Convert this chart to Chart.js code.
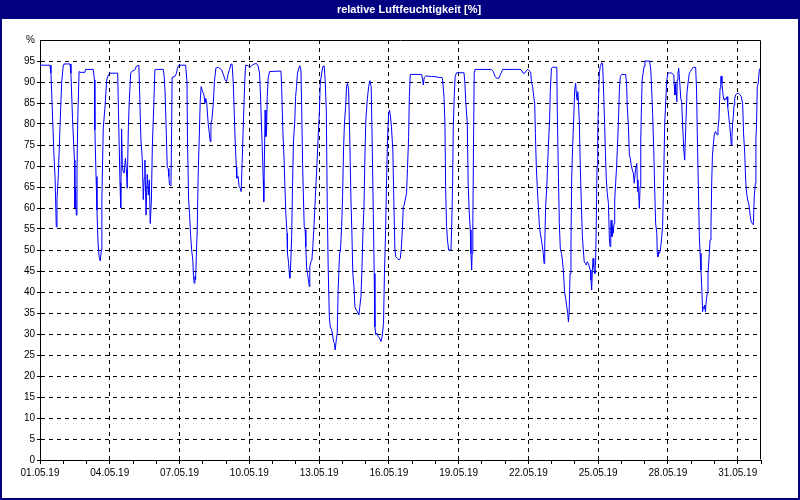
<!DOCTYPE html>
<html>
<head>
<meta charset="utf-8">
<script src="https://cdn.jsdelivr.net/npm/chart.js@4/dist/chart.umd.min.js"></script>
<style>
html,body{margin:0;padding:0;background:#ffffff;}
#wrap{width:800px;height:500px;position:relative;}
canvas{display:block;}
</style>
</head>
<body>
<div id="wrap"><canvas id="c" width="800" height="500"></canvas></div>
<script>
// ---- chart content ----
const chartTitle = 'relative Luftfeuchtigkeit [%]';
const xTickLabels = ['01.05.19','04.05.19','07.05.19','10.05.19','13.05.19','16.05.19','19.05.19','22.05.19','25.05.19','28.05.19','31.05.19'];
const yTickLabels = ['0','5','10','15','20','25','30','35','40','45','50','55','60','65','70','75','80','85','90','95','%'];

// time in days since 01.05.19 00:00
const timeDays = [
  0, 0.43, 0.47, 0.53, 0.60, 0.65, 0.70, 0.73, 0.79, 0.86,
  0.93, 1.00, 1.03, 1.29, 1.33, 1.40, 1.48, 1.50, 1.53, 1.56,
  1.59, 1.62, 1.68, 1.72, 1.93, 1.96, 2.29, 2.34, 2.36, 2.41,
  2.45, 2.49, 2.54, 2.59, 2.64, 2.66, 2.72, 2.79, 2.87, 2.94,
  3.01, 3.34, 3.40, 3.44, 3.47, 3.51, 3.54, 3.58, 3.62, 3.67,
  3.71, 3.75, 3.80, 3.84, 3.90, 3.94, 4.08, 4.15, 4.25, 4.34,
  4.40, 4.44, 4.48, 4.51, 4.56, 4.61, 4.66, 4.70, 4.74, 4.79,
  4.83, 4.89, 4.94, 5.01,
  5.30, 5.34, 5.38, 5.43, 5.47, 5.51, 5.54, 5.57, 5.63, 5.66,
  5.68, 5.80, 5.87, 5.91, 5.97, 6.26, 6.32, 6.34, 6.39, 6.43,
  6.47, 6.52, 6.57, 6.60, 6.63, 6.66, 6.69, 6.72, 6.76, 6.80,
  6.85, 6.89, 6.93, 6.99, 7.05, 7.09, 7.13, 7.17, 7.23, 7.28,
  7.32, 7.35, 7.39, 7.45, 7.50, 7.56, 7.66, 7.81, 7.89, 7.95,
  8.02, 8.08, 8.15, 8.21, 8.26, 8.31, 8.35, 8.39, 8.44, 8.46,
  8.52, 8.56, 8.61, 8.65, 8.69, 8.75, 8.81, 8.84, 8.95, 9.02,
  9.07, 9.12, 9.21, 9.31, 9.38, 9.44, 9.48, 9.52, 9.57, 9.60,
  9.62, 9.65, 9.68, 9.71, 9.74, 9.77, 9.81, 9.87, 10.36,
  10.39, 10.44, 10.49, 10.53, 10.57, 10.62, 10.64, 10.69, 10.72, 10.74,
  10.77, 10.82, 10.86, 10.90, 10.95, 10.99, 11.03, 11.07, 11.13, 11.17,
  11.22, 11.25, 11.29, 11.33, 11.36, 11.40, 11.43, 11.46, 11.50, 11.53,
  11.58, 11.60, 11.65, 11.69, 11.73, 11.78, 11.82, 11.86, 11.91, 11.96,
  12.01, 12.05, 12.11, 12.16, 12.22, 12.26, 12.31, 12.35, 12.39, 12.44,
  12.48, 12.54, 12.58, 12.62, 12.66, 12.69, 12.74, 12.78, 12.82, 12.88,
  12.92, 12.97, 13.01, 13.05, 13.09, 13.14, 13.18, 13.22, 13.27, 13.32,
  13.37, 13.41, 13.45, 13.50, 13.54, 13.60, 13.65, 13.71, 13.75, 13.80,
  13.84, 13.88, 13.93, 13.97, 14.01, 14.07, 14.13, 14.18, 14.24, 14.28,
  14.33, 14.37, 14.40, 14.44, 14.48, 14.54, 14.60, 14.66, 14.71, 14.77,
  14.81, 14.86, 14.90, 14.94, 14.99, 15.03, 15.07, 15.11, 15.17, 15.21,
  15.26, 15.30, 15.37,
  15.43, 15.49, 15.53, 15.58, 15.62, 15.66, 15.70, 15.76, 15.80, 15.85,
  15.88, 15.92, 16.41, 16.45, 16.48, 16.52, 16.58, 16.69, 16.84, 16.98,
  17.12, 17.28, 17.31, 17.37, 17.41, 17.44, 17.48, 17.52, 17.57, 17.67,
  17.70, 17.74, 17.77, 17.81, 17.85, 17.91, 18.23, 18.27, 18.31, 18.37,
  18.41, 18.45, 18.50, 18.53, 18.56, 18.58, 18.61, 18.64, 18.67, 18.70,
  19.41, 19.49, 19.56, 19.63, 19.73, 19.82, 19.89, 20.63,
  20.70, 20.77, 20.84, 20.91, 20.98, 21.05, 21.10, 21.13, 21.18, 21.23,
  21.27, 21.30, 21.34, 21.38, 21.43, 21.47, 21.51, 21.56, 21.60, 21.64,
  21.67, 21.70, 21.74, 21.79, 21.83, 21.87, 21.91, 21.94, 21.99, 22.03,
  22.22, 22.24, 22.29, 22.33, 22.37, 22.42, 22.46, 22.50, 22.56, 22.60,
  22.65, 22.69, 22.72, 22.75, 22.79, 22.83, 22.86, 22.90, 22.95, 22.99,
  23.03, 23.06, 23.09, 23.12, 23.15, 23.19, 23.23, 23.28, 23.32, 23.36,
  23.40, 23.45, 23.49, 23.53, 23.58, 23.62, 23.66, 23.69, 23.72, 23.75,
  23.78, 23.81, 23.83, 23.86, 23.89, 23.92, 23.95, 23.98, 24.01, 24.05,
  24.09, 24.15, 24.19, 24.24, 24.28, 24.31, 24.35, 24.39, 24.44, 24.48,
  24.51, 24.54, 24.56, 24.59, 24.62, 24.65, 24.68, 24.71, 24.75, 24.79,
  24.84, 24.88, 24.91, 24.95, 25.01, 25.18, 25.22, 25.25, 25.30, 25.34,
  25.38, 25.42, 25.47, 25.51, 25.55,
  25.61, 25.66, 25.68, 25.71, 25.74, 25.77, 25.80, 25.83, 25.86, 25.89,
  25.93, 25.97, 26.01, 26.21, 26.26, 26.30, 26.34, 26.39, 26.43, 26.47,
  26.52, 26.54, 26.57, 26.60, 26.64, 26.69, 26.72, 26.77, 26.82, 26.86,
  26.90, 26.95, 27.00, 27.07, 27.17, 27.25, 27.27, 27.30, 27.33, 27.38,
  27.40, 27.43, 27.46, 27.50, 27.55, 27.59, 27.63, 27.68, 27.72, 27.75,
  27.78, 27.82, 27.88, 27.92, 27.96, 28.01, 28.08, 28.19, 28.23, 28.26,
  28.31, 28.35, 28.38, 28.42, 28.46, 28.49, 28.52, 28.55, 28.58, 28.61,
  28.65, 28.69, 28.72, 28.76, 28.81, 28.85, 28.88, 28.91, 28.95, 28.99,
  29.04, 29.08, 29.12, 29.15, 29.19, 29.24, 29.27, 29.30, 29.32, 29.37,
  29.41, 29.45, 29.50, 29.54, 29.57, 29.61, 29.65, 29.70, 29.72, 29.75,
  29.78, 29.81, 29.84, 29.87, 29.91, 29.97, 30.03, 30.08, 30.15, 30.21,
  30.25, 30.30, 30.34, 30.38, 30.43, 30.47, 30.51, 30.54, 30.58, 30.63,
  30.67, 30.71, 30.76, 30.78, 30.81, 30.84, 30.88, 30.93, 30.97
];

// relative humidity in %
const humidity = [
  94.0, 94.0, 92.1, 83.3, 72.6, 67.0, 55.5, 62.0, 68.0, 79.4,
  89.7, 94.0, 94.3, 94.3, 92.1, 81.0, 71.4, 60.0, 64.7, 58.3,
  68.3, 80.2, 92.5, 92.3, 92.3, 93.0, 93.0, 90.5, 78.6, 67.5,
  59.5, 52.4, 48.4, 47.4, 50.0, 61.9, 79.0, 83.7, 90.5, 91.7,
  92.1, 92.1, 76.2, 65.9, 60.0, 78.8, 69.8, 68.6, 68.3, 71.8,
  69.4, 64.7, 79.4, 85.7, 92.1, 92.5, 92.9, 93.8, 94.0, 76.2,
  71.4, 62.0, 67.1, 71.4, 58.3, 68.0, 63.1, 66.7, 56.3, 61.9,
  74.6, 84.1, 92.9, 93.0,
  93.0, 91.3, 87.3, 77.8, 69.8, 69.4, 67.5, 65.5, 65.3, 79.4,
  91.1, 91.3, 92.1, 93.3, 94.0, 94.0, 90.1, 76.6, 61.9, 58.7,
  54.0, 50.0, 47.6, 43.7, 42.1, 43.7, 42.9, 48.4, 54.8, 67.5,
  77.4, 85.7, 88.9, 87.7, 86.9, 84.9, 86.1, 84.9, 80.2, 77.8,
  75.8, 80.2, 81.0, 84.9, 90.1, 93.3, 93.5, 92.9, 91.7, 90.6,
  90.1, 91.7, 93.0, 94.3, 94.2, 89.7, 82.9, 76.2, 69.8, 67.1,
  67.5, 65.1, 64.7, 63.9, 70.6, 81.3, 90.9, 94.0, 93.9, 93.5,
  93.7, 94.0, 94.3, 94.4, 93.8, 92.1, 86.9, 80.2, 72.2, 66.7,
  61.5, 72.2, 83.3, 77.0, 77.8, 86.5, 90.9, 92.5, 92.6,
  88.9, 78.6, 72.2, 65.1, 58.7, 54.0, 49.2, 46.8, 44.4, 43.3,
  45.2, 53.2, 65.9, 76.2, 80.2, 86.5, 88.9, 92.1, 93.3, 93.9,
  92.9, 84.1, 70.6, 61.9, 55.6, 54.8, 50.8, 46.0, 44.4, 43.3,
  41.3, 46.0, 47.2, 47.6, 50.8, 55.6, 60.3, 65.1, 70.6, 77.0,
  82.5, 89.7, 92.1, 93.7, 93.8, 90.5, 83.3, 61.1, 46.0, 34.1,
  31.7, 31.0, 29.8, 28.2, 27.8, 26.2, 28.6, 30.2, 40.5, 49.2,
  50.0, 55.6, 62.7, 73.8, 80.2, 84.1, 88.9, 89.7, 88.1, 76.2,
  61.9, 54.0, 44.4, 41.3, 36.5, 35.7, 35.3, 34.5, 36.5, 38.9,
  45.2, 53.2, 60.3, 72.2, 81.0, 85.7, 88.9, 90.3, 88.9, 76.2,
  58.7, 44.4, 31.7, 29.8, 30.2, 29.4, 29.0, 28.2, 29.4, 32.5,
  44.4, 54.8, 65.9, 76.2, 82.5, 83.3, 81.7, 79.4, 73.8, 62.7,
  50.0, 48.4, 48.0,
  47.6, 48.0, 50.0, 54.8, 60.3, 60.7, 61.9, 63.5, 69.4, 77.0,
  86.5, 91.8, 91.8, 90.6, 89.3, 91.1, 91.4, 91.4, 91.3, 91.3,
  91.1, 91.1, 90.5, 86.5, 80.2, 65.1, 55.6, 52.4, 50.0, 50.0,
  55.2, 65.9, 79.4, 86.5, 91.3, 92.2, 92.2, 89.7, 84.9, 80.2,
  65.9, 59.5, 54.8, 49.2, 45.2, 49.2, 56.3, 75.0, 92.5, 93.0,
  93.0, 92.5, 91.4, 90.9, 90.9, 92.1, 93.0, 93.0,
  92.9, 92.1, 92.1, 92.7, 93.0, 92.6, 92.1, 90.1, 88.9, 86.5,
  84.9, 77.8, 69.8, 65.1, 59.9, 56.0, 54.0, 52.4, 50.8, 49.2,
  46.8, 50.8, 60.3, 65.1, 71.0, 76.2, 81.0, 87.7, 93.3, 93.5,
  93.5, 83.3, 67.5, 56.3, 50.4, 49.2, 47.6, 45.2, 39.7, 38.5,
  36.5, 34.9, 32.9, 34.9, 44.4, 50.8, 67.1, 74.6, 81.7, 88.1,
  89.7, 87.3, 85.7, 87.7, 85.3, 80.2, 69.8, 60.3, 53.2, 50.0,
  47.2, 46.8, 46.4, 47.2, 46.8, 46.0, 45.2, 42.9, 40.5, 45.2,
  48.0, 46.0, 45.2, 44.4, 47.6, 57.1, 69.8, 77.8, 84.9, 92.1,
  93.7, 94.6, 94.4, 86.5, 79.4, 73.0, 66.7, 63.5, 61.1, 52.8,
  50.8, 55.6, 57.1, 53.2, 55.6, 54.0, 56.3, 61.9, 65.9, 69.8,
  76.2, 82.5, 88.1, 91.3, 91.8, 91.8, 89.7, 84.1, 79.4, 72.6,
  71.8, 70.2, 69.0, 68.3, 65.9,
  69.4, 70.6, 66.7, 63.9, 63.5, 59.9, 65.1, 76.2, 84.1, 90.5,
  92.1, 93.7, 95.0, 95.0, 92.9, 88.1, 82.5, 73.8, 64.3, 56.3,
  54.0, 49.2, 48.4, 49.6, 49.2, 50.8, 52.4, 55.6, 68.3, 80.2,
  84.9, 90.5, 92.1, 92.2, 92.1, 91.7, 89.3, 86.9, 89.7, 85.3,
  90.5, 92.1, 93.3, 90.5, 86.1, 85.3, 79.8, 73.8, 71.4, 76.6,
  81.7, 87.7, 90.5, 92.1, 92.5, 92.9, 93.5, 93.5, 88.1, 77.8,
  64.3, 53.2, 49.2, 45.2, 40.1, 35.3, 36.5, 36.1, 36.9, 35.3,
  38.1, 39.7, 44.4, 47.6, 52.4, 55.6, 65.9, 72.2, 75.0, 77.4,
  78.2, 77.8, 77.4, 79.0, 81.0, 88.5, 91.3, 91.4, 89.7, 86.9,
  85.7, 86.1, 85.9, 86.5, 84.1, 82.1, 79.8, 77.0, 75.0, 77.0,
  80.2, 81.7, 84.5, 86.1, 86.9, 87.3, 87.3, 87.1, 86.5, 84.9,
  77.8, 73.0, 66.7, 63.5, 61.9, 61.1, 59.5, 57.9, 56.7, 56.3,
  56.0, 62.7, 65.9, 76.2, 80.2, 88.9, 89.7, 92.9, 93.3
];

// ---- rendering ----
const NAVY = '#000080';
const FONT = 'Liberation Sans, Arial, sans-serif';

const points = [];
const n = Math.min(timeDays.length, humidity.length);
for (let i = 0; i < n; i++) points.push({ x: timeDays[i], y: humidity[i] });

const framePlugin = {
  id: 'frame',
  beforeDraw(chart) {
    const ctx = chart.ctx;
    ctx.save();
    ctx.fillStyle = '#ffffff';
    ctx.fillRect(0, 0, chart.width, chart.height);
    ctx.fillStyle = NAVY;
    ctx.fillRect(0, 0, chart.width, 19);
    ctx.fillRect(0, 0, 2, chart.height);
    ctx.fillRect(chart.width - 2, 0, 2, chart.height);
    ctx.fillRect(0, chart.height - 2, chart.width, 2);
    ctx.fillStyle = '#ffffff';
    ctx.font = 'bold 11px ' + FONT;
    ctx.textAlign = 'center';
    ctx.textBaseline = 'middle';
    ctx.fillText(chartTitle, 409, 10);
    ctx.restore();
  },
  afterDraw(chart) {
    const a = chart.chartArea;
    const ctx = chart.ctx;
    ctx.save();
    ctx.strokeStyle = '#000000';
    ctx.lineWidth = 1;
    ctx.beginPath();
    const l = Math.round(a.left) + 0.5, t = Math.round(a.top) + 0.5;
    const r = Math.round(a.right) - 0.5, b = Math.round(a.bottom) - 0.5;
    ctx.moveTo(l, t); ctx.lineTo(r, t); ctx.lineTo(r, b);
    ctx.stroke();
    ctx.restore();
  }
};

new Chart(document.getElementById('c'), {
  type: 'line',
  data: {
    datasets: [{
      label: chartTitle,
      data: points,
      borderColor: '#0000ff',
      borderWidth: 1,
      pointRadius: 0,
      tension: 0,
      fill: false
    }]
  },
  options: {
    responsive: false,
    animation: false,
    events: [],
    layout: { padding: { left: 0, top: 40, right: 39, bottom: 0 } },
    plugins: { legend: { display: false }, tooltip: { enabled: false }, title: { display: false } },
    scales: {
      x: {
        type: 'linear', min: 0, max: 31,
        afterFit(scale) { scale.height = 40; },
        ticks: {
          stepSize: 1, autoSkip: false, maxRotation: 0, minRotation: 0,
          color: '#000', padding: 3,
          font: { family: FONT, size: 10 },
          callback: (v) => (v % 3 === 0 && xTickLabels[v / 3] !== undefined) ? xTickLabels[v / 3] : ''
        },
        grid: {
          color: (c) => (c.tick && c.tick.value % 3 === 0 && c.tick.value > 0 && c.tick.value < 31) ? '#000' : 'rgba(0,0,0,0)',
          tickColor: '#000', tickLength: 4, lineWidth: 1, drawTicks: true
        },
        border: { display: true, color: '#000', width: 1, dash: [4, 4] }
      },
      y: {
        type: 'linear', min: 0, max: 100,
        afterFit(scale) { scale.width = 40; },
        ticks: {
          stepSize: 5, autoSkip: false, color: '#000', padding: 2,
          font: { family: FONT, size: 10 },
          callback: (v) => yTickLabels[Math.round(v / 5)]
        },
        grid: {
          color: (c) => (c.tick && c.tick.value > 0 && c.tick.value < 100) ? '#000' : 'rgba(0,0,0,0)',
          tickColor: (c) => (c.tick && c.tick.value < 100) ? '#000' : 'rgba(0,0,0,0)',
          tickLength: 3, lineWidth: 1
        },
        border: { display: true, color: '#000', width: 1, dash: [4, 4] }
      }
    }
  },
  plugins: [framePlugin]
});
</script>
</body>
</html>
